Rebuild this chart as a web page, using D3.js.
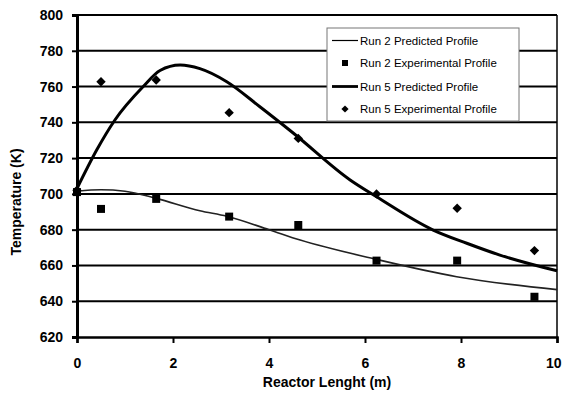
<!DOCTYPE html>
<html lang="en">
<head>
  <meta charset="UTF-8">
  <title>Reactor Temperature Profiles</title>
  <script src="https://d3js.org/d3.v7.min.js"></script>
  <style>
    body { margin: 0; background: #fff; }
    text { font-family: "Liberation Sans", Arial, sans-serif; fill: #000; }
    .tick-label { font-size: 14px; font-weight: bold; fill: #000; }
    .axis-title { font-size: 14px; font-weight: bold; fill: #000; }
    .legend-text { font-size: 11.5px; fill: #000; }
  </style>
</head>
<body>
  <svg id="chart" width="562" height="394"></svg>

  <script>
    // Measured points (position along reactor, temperature)
    const expX = [0, 0.5, 1.65, 3.17, 4.61, 6.24, 7.92, 9.53];
    const run2Exp = [701, 691.6, 697.2, 687.3, 682.6, 662.7, 662.7, 642.5];
    const run5Exp = [702, 762.7, 763.7, 745.4, 731, 700, 692, 668.3];

    // Predicted profiles
    const run2PredX = [0, 0.5, 1, 1.65, 2.56, 3.12, 4, 4.65, 6.24, 7.91, 10];
    const run2Pred = [701.5, 702.3, 701.5, 697.5, 690.6, 687.5, 680, 674.2, 663.4, 653.7, 646.5];
    const run5PredX = [0, 0.41, 0.79, 1.38, 1.73, 2.15, 2.56, 3.12, 3.81, 4.51, 5.69, 6.24, 7.42, 8.12, 8.81, 10];
    const run5Pred = [703, 724.5, 741.3, 760, 769, 772, 770, 762.7, 748.7, 733.9, 707.8, 698.4, 679.8, 672.4, 665.8, 657];

    const xTicks = [0, 2, 4, 6, 8, 10];
    const yTicks = [620, 640, 660, 680, 700, 720, 740, 760, 780, 800];
    const legendLabels = ["Run 2 Predicted Profile", "Run 2 Experimental Profile",
                          "Run 5 Predicted Profile", "Run 5 Experimental Profile"];

    const margin = { top: 15, right: 5, bottom: 57, left: 77 };
    const width = 562 - margin.left - margin.right;
    const height = 394 - margin.top - margin.bottom;

    const svg = d3.select("#chart")
      .append("g")
      .attr("transform", "translate(" + margin.left + "," + margin.top + ")");

    const x = d3.scaleLinear().domain([0, 10]).range([0, width]);
    const y = d3.scaleLinear().domain([620, 800]).range([height, 0]);

    // horizontal gridlines
    svg.selectAll(".grid")
      .data(yTicks.slice(1))
      .enter()
      .append("line")
      .attr("x1", 0)
      .attr("x2", width)
      .attr("y1", d => y(d))
      .attr("y2", d => y(d))
      .attr("stroke", "#000")
      .attr("stroke-width", 2);

    // right border of plot area
    svg.append("line")
      .attr("x1", width).attr("x2", width)
      .attr("y1", 0).attr("y2", height)
      .attr("stroke", "#000").attr("stroke-width", 1.5);

    // axes
    const yAxis = svg.append("g")
      .call(d3.axisLeft(y).tickValues(yTicks).tickSize(5).tickPadding(9).tickFormat(d3.format("d")));
    yAxis.select(".domain").attr("stroke-width", 3);
    yAxis.selectAll(".tick line").attr("stroke-width", 2);
    yAxis.selectAll(".tick text").attr("class", "tick-label").attr("font-family", null).attr("font-size", null);

    const xAxis = svg.append("g")
      .attr("transform", "translate(0," + height + ")")
      .call(d3.axisBottom(x).tickValues(xTicks).tickSize(6).tickPadding(15));
    xAxis.select(".domain").attr("stroke-width", 2.5);
    xAxis.selectAll(".tick line").attr("stroke-width", 2);
    xAxis.selectAll(".tick text").attr("class", "tick-label").attr("font-family", null).attr("font-size", null);
    // last label sits at the window edge; pull it in so it stays readable
    xAxis.selectAll(".tick text").filter(d => d === 10).attr("text-anchor", "end").attr("dx", 4);

    // predicted curves
    const line = d3.line()
      .x(d => x(d[0]))
      .y(d => y(d[1]))
      .curve(d3.curveMonotoneX);

    svg.append("path")
      .datum(d3.zip(run2PredX, run2Pred))
      .attr("fill", "none")
      .attr("stroke", "#222")
      .attr("stroke-width", 1.6)
      .attr("d", line);

    svg.append("path")
      .datum(d3.zip(run5PredX, run5Pred))
      .attr("fill", "none")
      .attr("stroke", "#000")
      .attr("stroke-width", 3)
      .attr("d", line);

    // experimental markers
    const square = d3.symbol().type(d3.symbolSquare).size(64);
    const diamond = d3.symbol().type(d3.symbolSquare).size(44);

    svg.selectAll(".run2")
      .data(d3.zip(expX, run2Exp))
      .enter()
      .append("path")
      .attr("d", square)
      .attr("transform", d => "translate(" + x(d[0]) + "," + y(d[1]) + ")")
      .attr("fill", "#000");

    svg.selectAll(".run5")
      .data(d3.zip(expX, run5Exp))
      .enter()
      .append("path")
      .attr("d", diamond)
      .attr("transform", d => "translate(" + x(d[0]) + "," + y(d[1]) + ") rotate(45)")
      .attr("fill", "#000");

    // axis titles
    svg.append("text")
      .attr("class", "axis-title")
      .attr("x", 250)
      .attr("y", height + 50)
      .style("text-anchor", "middle")
      .text("Reactor Lenght (m)");

    svg.append("text")
      .attr("class", "axis-title")
      .attr("transform", "rotate(-90)")
      .attr("x", -187)
      .attr("y", -56)
      .style("text-anchor", "middle")
      .text("Temperature (K)");

    // legend
    const legend = svg.append("g").attr("transform", "translate(250,13)");
    legend.append("rect")
      .attr("width", 192)
      .attr("height", 93)
      .attr("fill", "#fff")
      .attr("stroke", "#777")
      .attr("stroke-width", 1);

    const rowY = [12.5, 35, 58.5, 81];
    legendLabels.forEach((label, i) => {
      const g = legend.append("g").attr("transform", "translate(0," + rowY[i] + ")");
      if (i === 0 || i === 2) {
        g.append("line")
          .attr("x1", 5).attr("x2", 31)
          .attr("stroke", "#000")
          .attr("stroke-width", i === 0 ? 1.2 : 2.8);
      } else {
        g.append("path")
          .attr("d", d3.symbol().type(d3.symbolSquare).size(i === 1 ? 36 : 26)())
          .attr("transform", "translate(18,0)" + (i === 3 ? " rotate(45)" : ""))
          .attr("fill", "#000");
      }
      g.append("text")
        .attr("class", "legend-text")
        .attr("x", 33)
        .attr("y", 4)
        .text(label);
    });
  </script>
</body>
</html>
